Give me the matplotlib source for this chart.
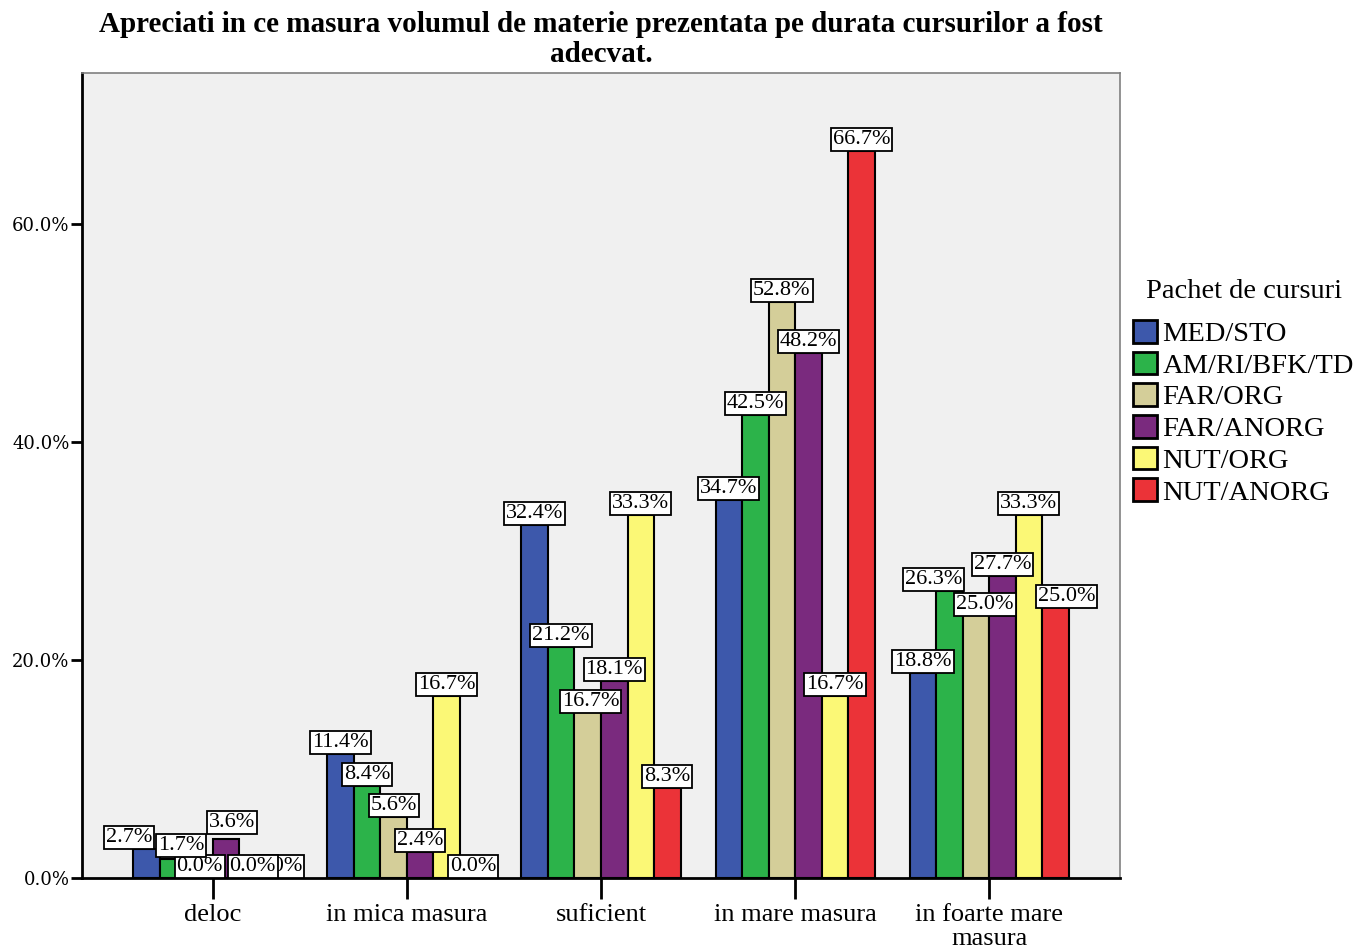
import numpy as np
import matplotlib
matplotlib.use("Agg")
import matplotlib.pyplot as plt
import matplotlib.ticker as mticker

# Data
categories = ["deloc", "in mica masura", "suficient", "in mare masura", "in foarte mare\nmasura"]
series_names = ["MED/STO", "AM/RI/BFK/TD", "FAR/ORG", "FAR/ANORG", "NUT/ORG", "NUT/ANORG"]
med_sto = [2.7, 11.4, 32.4, 34.7, 18.8]
am_ri = [1.7, 8.4, 21.2, 42.5, 26.3]
far_org = [0.0, 5.6, 16.7, 52.8, 25.0]
far_anorg = [3.6, 2.4, 18.1, 48.2, 27.7]
nut_org = [0.0, 16.7, 33.3, 16.7, 33.3]
nut_anorg = [0.0, 0.0, 8.3, 66.7, 25.0]
series = [med_sto, am_ri, far_org, far_anorg, nut_org, nut_anorg]

colors = ["#3D58AB", "#2CB34A", "#D4CE99", "#7A2A7E", "#FBF876", "#EB3338"]
# label shifts (dx, dy in pixels, dy positive = up) where SPSS moved labels apart
nudge = {(0, 0): (-18, 0), (0, 1): (8, 2), (0, 3): (6, 5), (2, 2): (3, -17),
         (4, 1): (-16, 0), (4, 2): (9, -11), (4, 5): (11, -3)}

SERIF = "Liberation Serif"

fig = plt.figure(figsize=(13.58, 9.51), dpi=100)
fig.patch.set_facecolor("white")
ax = fig.add_axes([82 / 1358, 1 - 878 / 951, (1120 - 82) / 1358, (878 - 73) / 951])
ax.set_facecolor("#F0F0F0")

x = np.arange(len(categories))
w = 0.1366
n = len(series)
for i, (vals, col, name) in enumerate(zip(series, colors, series_names)):
    xs = x + (i - (n - 1) / 2) * w
    ax.bar(xs, vals, width=w, color=col, edgecolor="black", linewidth=1.5, label=name, zorder=2)
    for j, (xx, v) in enumerate(zip(xs, vals)):
        dx, dy = nudge.get((j, i), (0, 0))
        ax.annotate(f"{v:.1f}%", (xx, v), textcoords="offset pixels",
                    xytext=(dx, 2 + dy), ha="center", va="bottom",
                    fontsize=16, family=SERIF, zorder=10 - i,
                    bbox=dict(boxstyle="square,pad=0.09", fc="white", ec="black", lw=1.3))

ax.set_xlim(-0.675, 4.675)
ax.set_ylim(0, 73.85)
ax.set_xticks(x)
ax.set_xticklabels(categories, fontsize=19, family=SERIF, linespacing=1.1)
ax.set_yticks([0, 20, 40, 60])
ax.yaxis.set_major_formatter(mticker.FuncFormatter(lambda v, p: f"{v:.1f}%"))
for lab in ax.get_yticklabels():
    lab.set_family("DejaVu Serif")
    lab.set_fontsize(13)
ax.tick_params(axis="y", direction="out", length=8, width=2, pad=1)
ax.tick_params(axis="x", direction="out", length=15, width=2, pad=4)

for sp in ["left", "bottom"]:
    ax.spines[sp].set_color("black")
    ax.spines[sp].set_linewidth(2)
for sp in ["top", "right"]:
    ax.spines[sp].set_color("#808080")
    ax.spines[sp].set_linewidth(1.2)

ax.set_title("Apreciati in ce masura volumul de materie prezentata pe durata cursurilor a fost\nadecvat.",
             fontsize=21, fontweight="bold", family=SERIF, pad=8, linespacing=1.12)

leg = ax.legend(loc="upper left", bbox_to_anchor=(1133 / 1358, 1 - 320 / 951),
                bbox_transform=fig.transFigure, frameon=False,
                prop={"family": SERIF, "size": 20.5},
                handlelength=0.84, handleheight=0.84, handletextpad=0.2,
                labelspacing=0.16, borderpad=0, borderaxespad=0)
for h in leg.legend_handles:
    h.set_linewidth(2)
fig.text(1244 / 1358, 1 - 292 / 951, "Pachet de cursuri", ha="center", va="center",
         fontsize=20.5, family=SERIF)

fig.savefig("out.png", dpi=100, facecolor="white")
